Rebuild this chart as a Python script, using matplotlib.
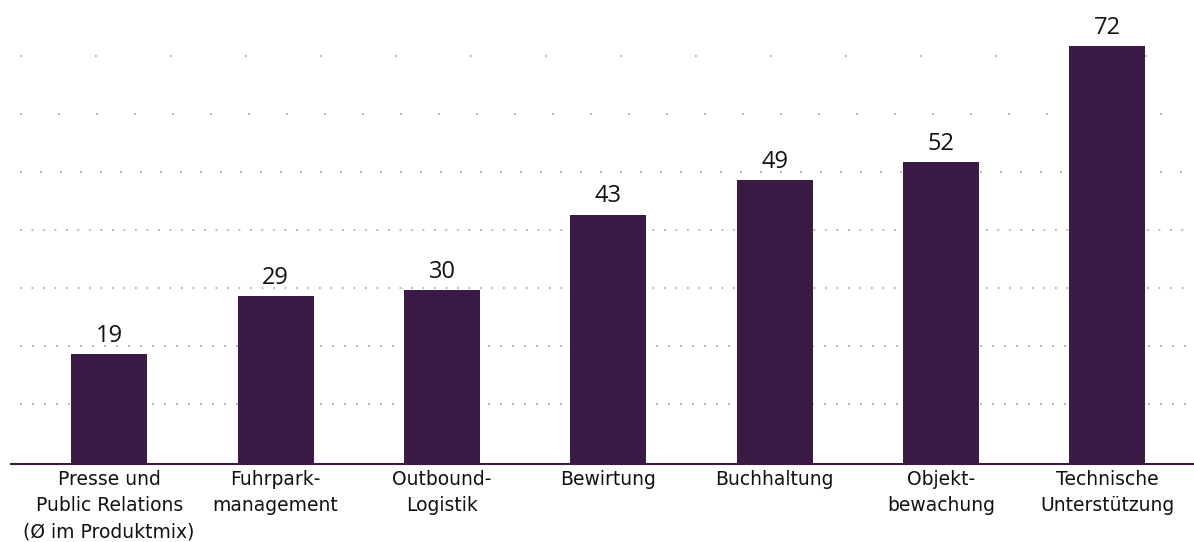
import matplotlib
matplotlib.use("Agg")
import matplotlib.pyplot as plt

categories = ["Presse und\nPublic Relations\n(Ø im Produktmix)", "Fuhrpark-\nmanagement",
              "Outbound-\nLogistik", "Bewirtung", "Buchhaltung", "Objekt-\nbewachung",
              "Technische\nUnterstützung"]
values = [19, 29, 30, 43, 49, 52, 72]
grid_levels = [10, 20, 30, 40, 50, 60, 70]
grid_spacing_px = [12, 12, 11.5, 11.5, 20, 38, 75]

plt.rcParams['font.family'] = ['Open Sans', 'DejaVu Sans']
BAR = "#3c1a46"
DPI = 100
fig = plt.figure(figsize=(11.94, 5.42), dpi=DPI)
ax = fig.add_axes([11/1194, 1 - 464/542, 1183/1194, 464/542])

x = list(range(len(values)))
ax.set_xlim(-0.59, 6.52)
ax.set_ylim(0, 80)

px2pt = 72 / DPI
for lvl, sp in zip(grid_levels, grid_spacing_px):
    ax.axhline(lvl + 0.4, xmin=0.0076, xmax=0.993, color="#b0b0b0", linewidth=1.8 * px2pt,
               linestyle=(0, (1.0, (sp - 1.8) / 1.8)), zorder=1,
               dash_capstyle='butt')

ax.bar(x, values, width=0.457, color=BAR, zorder=2)
for xi, v in zip(x, values):
    ax.annotate(str(v), (xi, v), xytext=(0, 4.5), textcoords='offset points',
                ha='center', va='bottom', fontsize=17, color="#111111")

for s in ['top', 'right', 'left']:
    ax.spines[s].set_visible(False)
ax.spines['bottom'].set_color(BAR)
ax.spines['bottom'].set_linewidth(1.5)
ax.spines['bottom'].set_zorder(3)
ax.set_yticks([])
ax.set_xticks(x)
ax.set_xticklabels(categories, fontsize=13.5, color="#111111", linespacing=1.5,
                   family='DejaVu Sans')
ax.tick_params(axis='x', length=0, pad=4)

fig.savefig("out.png", dpi=DPI)
